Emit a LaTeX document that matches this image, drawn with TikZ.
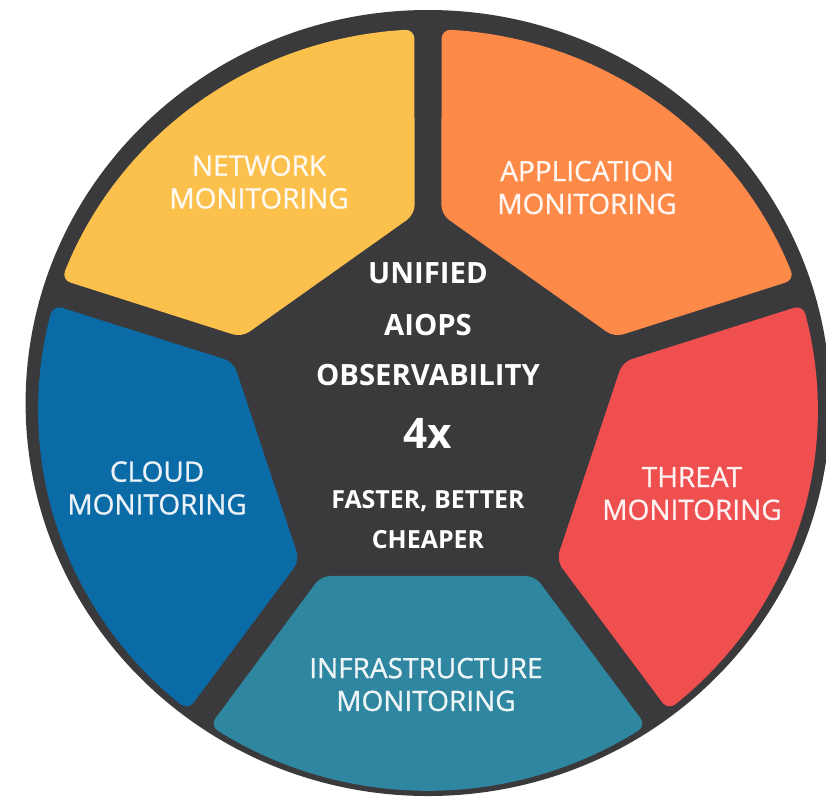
\documentclass[tikz,border=0pt]{standalone}
\usepackage{fontspec}
\setmainfont{Open Sans}
\newfontfamily\semifont{Open Sans}[FakeBold=0.9]
\usetikzlibrary{calc}
\definecolor{ringc}{RGB}{58,58,60}
\definecolor{netc}{RGB}{252,192,77}
\definecolor{appc}{RGB}{254,138,74}
\definecolor{thrc}{RGB}{239,79,79}
\definecolor{infc}{RGB}{47,134,160}
\definecolor{cldc}{RGB}{10,107,167}
\tikzset{
  seglabel/.style={align=center, font=\semifont\fontsize{23.9}{28}\selectfont, inner sep=0pt},
  midtext/.style={anchor=base, text=white, font=\bfseries\fontsize{25}{30}\selectfont, inner sep=0pt},
}
\newcommand{\segpiece}[3]{%
  \fill[#3, rounded corners=8pt] ($(#1:205)!0.067!(#2:205)$)
    \foreach \k in {0,...,17}{ -- ({#1+2+\k*4}:381)}
    -- ($(#2:205)!0.067!(#1:205)$) -- cycle;
}
\begin{document}
\begin{tikzpicture}[x=0.03072cm, y=0.03cm]
\useasboundingbox (-418,-393) rectangle (388.7,410);
\fill[ringc] (0,7) circle[radius=393];
\segpiece{18}{90}{appc}
\segpiece{90}{162}{netc}
\segpiece{162}{234}{cldc}
\segpiece{234}{306}{infc}
\segpiece{306}{378}{thrc}
\node[seglabel, text=white!92!netc] (net) at (-165,228) {NETWORK\\MONITORING};
\node[seglabel, text=white!92!appc] (app) at (155.3,222.5) {APPLICATION\\MONITORING};
\node[seglabel, text=white!92!cldc] (cloud) at (-264.6,-78) {CLOUD\\MONITORING};
\node[seglabel, text=white!92!thrc] (threat) at (257.8,-83.5) {THREAT\\MONITORING};
\node[seglabel, text=white!92!infc] (infra) at (-2,-274.5) {INFRASTRUCTURE\\MONITORING};
\node[midtext] (l1) at (0,127) {UNIFIED};
\node[midtext] (l2) at (0,75) {AIOPS};
\node[midtext] (l3) at (0,25) {OBSERVABILITY};
\node[midtext, font=\bfseries\fontsize{36}{40}\selectfont] (l4) at (0,-38) {4x};
\node[midtext, font=\bfseries\fontsize{21.3}{26}\selectfont] (l5) at (0,-98) {FASTER, BETTER};
\node[midtext, font=\bfseries\fontsize{21.3}{26}\selectfont] (l6) at (0,-138) {CHEAPER};
\end{tikzpicture}
\end{document}
